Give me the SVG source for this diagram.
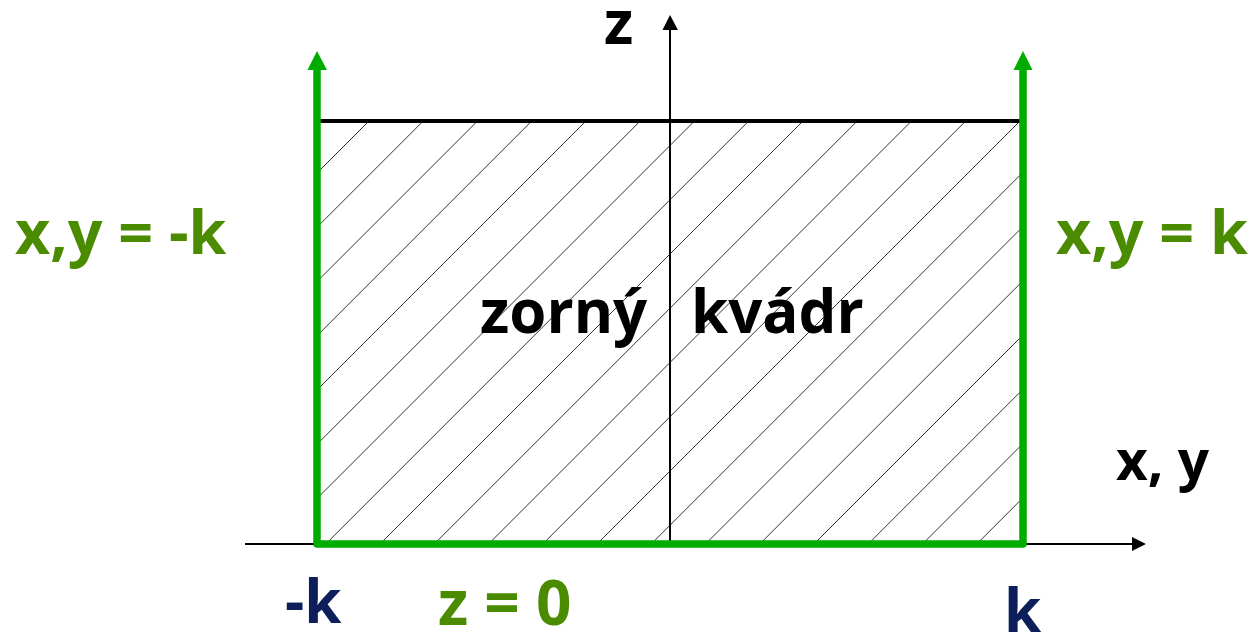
<svg xmlns="http://www.w3.org/2000/svg" width="1252" height="636" viewBox="0 0 1252 636">
<style>
.t{font-family:"Open Sans","DejaVu Sans",sans-serif;font-weight:700}
.g{fill:#4b8b00}
.n{fill:#0c1f5b}
.b{fill:#000}
.hatch line{stroke:#333;stroke-width:1}
</style>
<defs>
<clipPath id="box"><rect x="320" y="122" width="700" height="420"/></clipPath>
</defs>
<rect width="1252" height="636" fill="#fff"/>
<g id="hatch" class="hatch" clip-path="url(#box)">
<line x1="-54" y1="544" x2="369" y2="121"/>
<line x1="0.25" y1="544" x2="423.25" y2="121"/>
<line x1="54.5" y1="544" x2="477.5" y2="121"/>
<line x1="108.75" y1="544" x2="531.75" y2="121"/>
<line x1="163" y1="544" x2="586" y2="121"/>
<line x1="217.25" y1="544" x2="640.25" y2="121"/>
<line x1="271.5" y1="544" x2="694.5" y2="121"/>
<line x1="325.75" y1="544" x2="748.75" y2="121"/>
<line x1="380" y1="544" x2="803" y2="121"/>
<line x1="434.25" y1="544" x2="857.25" y2="121"/>
<line x1="488.5" y1="544" x2="911.5" y2="121"/>
<line x1="542.75" y1="544" x2="965.75" y2="121"/>
<line x1="597" y1="544" x2="1020" y2="121"/>
<line x1="651.25" y1="544" x2="1074.25" y2="121"/>
<line x1="705.5" y1="544" x2="1128.5" y2="121"/>
<line x1="759.75" y1="544" x2="1182.75" y2="121"/>
<line x1="814" y1="544" x2="1237" y2="121"/>
<line x1="868.25" y1="544" x2="1291.25" y2="121"/>
<line x1="922.5" y1="544" x2="1345.5" y2="121"/>
<line x1="976.75" y1="544" x2="1399.75" y2="121"/>
</g>
<g id="connectors">
<line x1="670" y1="545" x2="670" y2="29" stroke="#000" stroke-width="2"/>
<polygon points="670,15 662.5,30 678,30" fill="#000"/>
<line x1="245" y1="544" x2="1133" y2="544" stroke="#000" stroke-width="2"/>
<polygon points="1146,544 1132,537 1132,551" fill="#000"/>
<line x1="320" y1="121" x2="1020" y2="121" stroke="#000" stroke-width="4"/>
<path d="M317,68 L317,544 L1023,544 L1023,68" fill="none" stroke="#00ac00" stroke-width="7.5" stroke-linejoin="round"/>
<polygon points="317,51 307.5,70 327,70" fill="#00ac00"/>
<polygon points="1023,51 1013.5,70 1032.5,70" fill="#00ac00"/>
</g>
<g id="labels">
<text class="t b" x="604" y="44" font-size="60">z</text>
<text class="t g" x="15" y="254" font-size="61">x,y = -k</text>
<text class="t g" x="1056" y="254" font-size="61">x,y = k</text>
<text class="t b" x="480" y="333" font-size="60">zorný</text>
<text class="t b" x="691" y="333" font-size="60">kvádr</text>
<text class="t b" x="1116" y="480" font-size="55">x, y</text>
<text class="t n" x="285" y="623" font-size="60">-k</text>
<text class="t g" x="438" y="625" font-size="62">z = 0</text>
<text class="t n" x="1004" y="632" font-size="60">k</text>
</g>
</svg>
